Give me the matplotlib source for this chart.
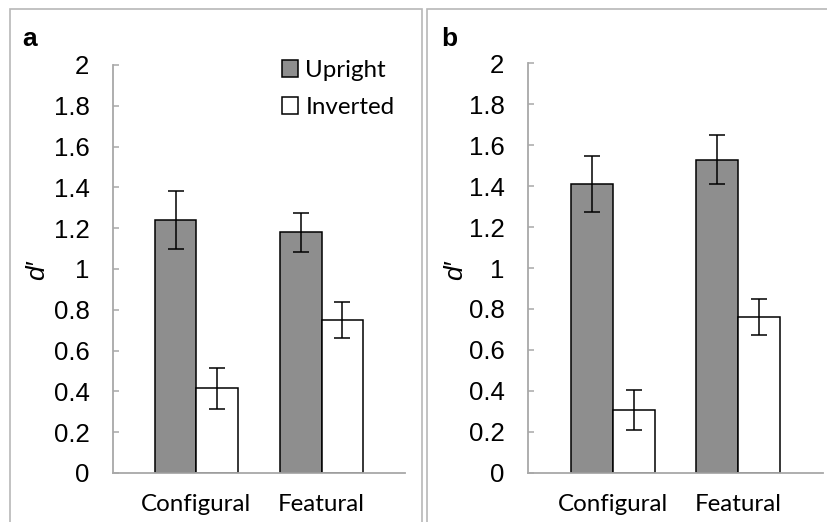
import matplotlib
matplotlib.use("Agg")
import matplotlib.pyplot as plt
from matplotlib.patches import Rectangle, Patch
import numpy as np

categories = ["Configural", "Featural"]
series = ["Upright", "Inverted"]
yticks = [0, 0.2, 0.4, 0.6, 0.8, 1, 1.2, 1.4, 1.6, 1.8, 2]
ytick_labels = ["0", "0.2", "0.4", "0.6", "0.8", "1", "1.2", "1.4", "1.6", "1.8", "2"]

a_upright = [1.24, 1.18]
a_upright_err = [0.14, 0.095]
a_inverted = [0.415, 0.75]
a_inverted_err = [0.10, 0.086]

b_upright = [1.41, 1.53]
b_upright_err = [0.135, 0.118]
b_inverted = [0.305, 0.76]
b_inverted_err = [0.097, 0.087]

W, H = 827, 522
DPI = 100
fig = plt.figure(figsize=(W / DPI, H / DPI), dpi=DPI)

GRAY_FILL = "#8e8e8e"
SPINE = "#a8a8a8"
FRAME = "#b8b8b8"

def px_axes(left, right, top, bottom):
    return fig.add_axes([left / W, (H - bottom) / H, (right - left) / W, (bottom - top) / H])

# panel frames
fig.patches.append(Rectangle((10 / W, -0.05), (422 - 10) / W, (H - 9) / H + 0.05,
                             transform=fig.transFigure, fill=False, edgecolor=FRAME, lw=1.2))
fig.patches.append(Rectangle((427 / W, -0.05), (W + 20 - 427) / W, (H - 9) / H + 0.05,
                             transform=fig.transFigure, fill=False, edgecolor=FRAME, lw=1.2))

def draw(ax, up, up_err, inv, inv_err, xpad, width, legend=False):
    x = np.arange(len(categories))
    ek = dict(ecolor="black", elinewidth=1.1, capsize=6, capthick=1.1)
    ax.bar(x - width / 2, up, width, yerr=up_err, color=GRAY_FILL, edgecolor="black",
           linewidth=1.1, error_kw=ek, label=series[0], zorder=2)
    ax.bar(x + width / 2, inv, width, yerr=inv_err, color="white", edgecolor="black",
           linewidth=1.1, error_kw=ek, label=series[1], zorder=2)
    ax.set_xlim(-xpad, len(categories) - 1 + xpad)
    ax.set_ylim(0, 2)
    ax.set_yticks(yticks)
    ax.set_yticklabels(ytick_labels, fontsize=18.5, family="Liberation Sans")
    ax.set_xticks(x)
    ax.set_xticklabels(categories, fontsize=17.4, family="Lato")
    for s in ["top", "right"]:
        ax.spines[s].set_visible(False)
    for s in ["left", "bottom"]:
        ax.spines[s].set_color(SPINE)
        ax.spines[s].set_linewidth(1.3)
    ax.tick_params(axis="y", direction="in", length=4, width=1.1, color=SPINE, pad=17)
    ax.tick_params(axis="x", length=0, pad=15)
    ax.patch.set_alpha(0)
    if legend:
        handles = [Patch(facecolor=GRAY_FILL, edgecolor="black", lw=1.1),
                   Patch(facecolor="white", edgecolor="black", lw=1.1)]
        ax.legend(handles, series, loc="upper left",
                  bbox_to_anchor=(282 / W, (H - 60) / H), bbox_transform=fig.transFigure,
                  frameon=False, prop=dict(family="Lato", size=17.4),
                  handlelength=0.67, handleheight=0.67, handletextpad=0.3,
                  labelspacing=0.66, borderaxespad=0, borderpad=0)

ax_a = px_axes(113, 405, 65, 473)
draw(ax_a, a_upright, a_upright_err, a_inverted, a_inverted_err, 0.665, 0.33, legend=True)
ax_b = px_axes(528, 823, 63.3, 472.7)
draw(ax_b, b_upright, b_upright_err, b_inverted, b_inverted_err, 0.68, 0.336)

# panel letters
fig.text(22 / W, 1 - 46 / H, "a", fontsize=19, fontweight="bold", family="Liberation Sans")
fig.text(441 / W, 1 - 46 / H, "b", fontsize=19, fontweight="bold", family="Liberation Sans")

# y labels
for xp in [37, 455]:
    fig.text(xp / W, 1 - 270 / H, "d\u2032", rotation=90, fontsize=19, style="italic",
             family="Liberation Sans", ha="center", va="center")

fig.savefig("out.png", dpi=DPI)
